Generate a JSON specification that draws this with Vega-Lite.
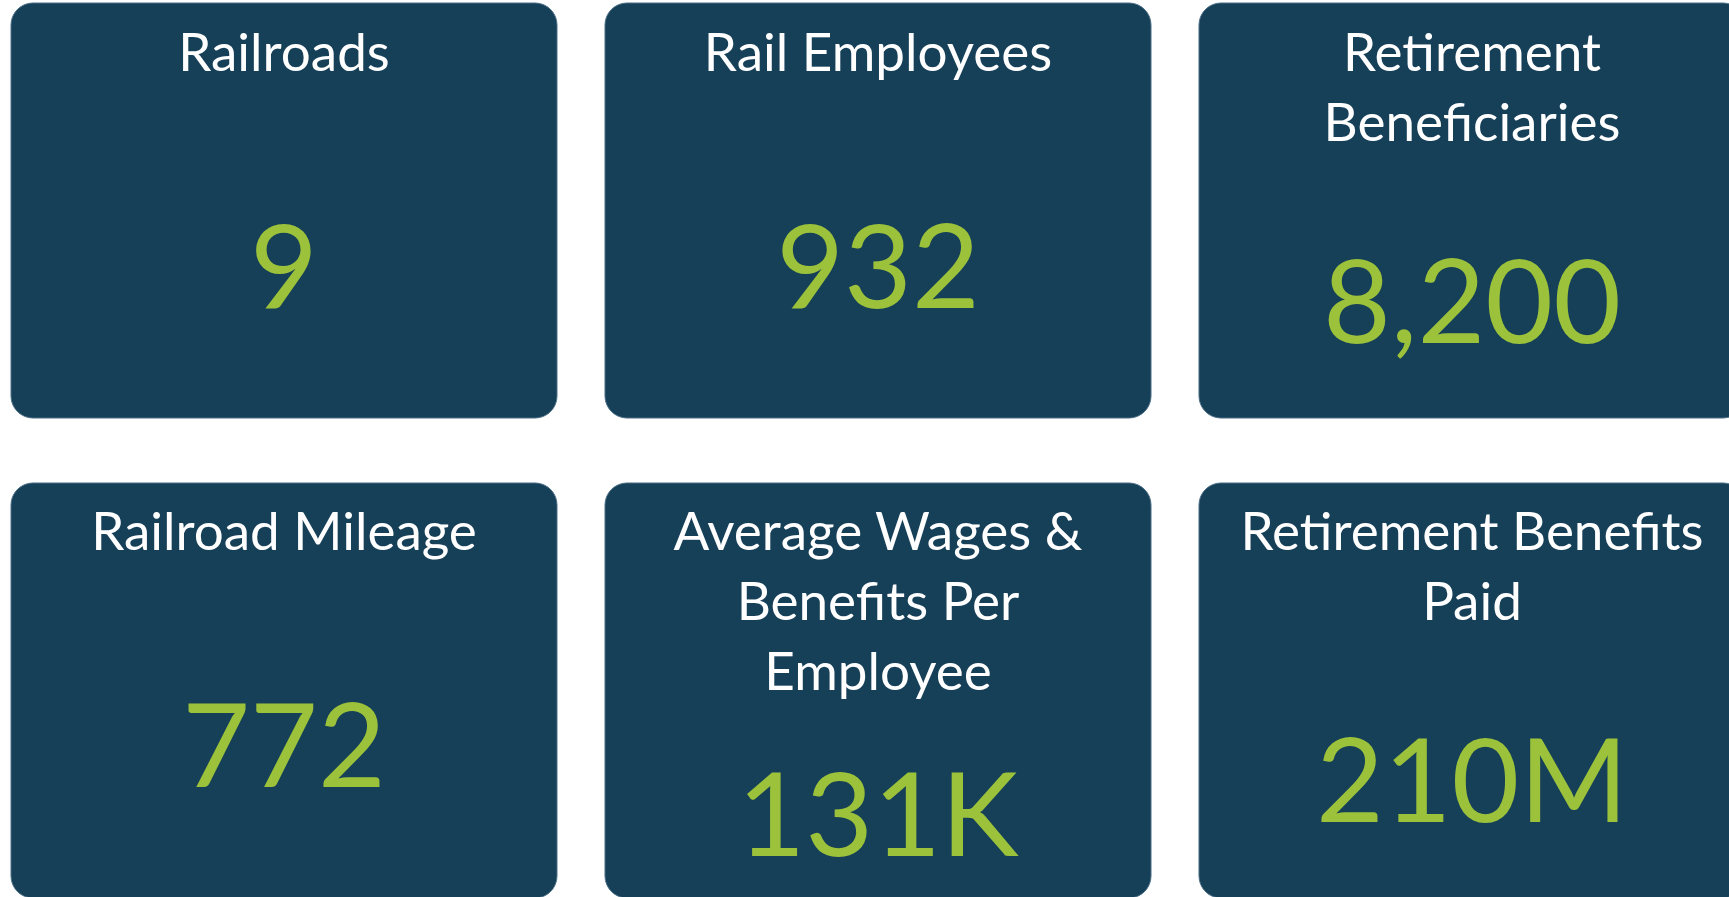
{
  "$schema": "https://vega.github.io/schema/vega-lite/v6.json",
  "width": 1729,
  "height": 897,
  "padding": 0,
  "autosize": {"type": "none"},
  "background": "white",
  "config": {"view": {"stroke": null}},
  "data": {
    "values": [
      {"row": 0, "col": 0, "title": ["Railroads"], "lines": 1, "value": 9, "display": "9"},
      {"row": 0, "col": 1, "title": ["Rail Employees"], "lines": 1, "value": 932, "display": "932"},
      {"row": 0, "col": 2, "title": ["Retirement", "Beneficiaries"], "lines": 2, "value": 8200, "display": "8,200"},
      {"row": 1, "col": 0, "title": ["Railroad Mileage"], "lines": 1, "value": 772, "display": "772"},
      {"row": 1, "col": 1, "title": ["Average Wages &", "Benefits Per", "Employee"], "lines": 3, "value": 131000, "display": "131K"},
      {"row": 1, "col": 2, "title": ["Retirement Benefits", "Paid"], "lines": 2, "value": 210000000, "display": "210M"}
    ]
  },
  "encoding": {
    "x": {"field": "col", "type": "ordinal", "axis": null, "scale": {"range": [11, 1745], "paddingInner": 0.0808, "paddingOuter": 0}},
    "y": {"field": "row", "type": "ordinal", "axis": null, "scale": {"range": [3, 898], "paddingInner": 0.1354, "paddingOuter": 0}}
  },
  "layer": [
    {
      "mark": {"type": "rect", "fill": "#163F58", "cornerRadius": 22, "stroke": "#4d6f86", "strokeWidth": 1}
    },
    {
      "mark": {"type": "text", "font": "Lato", "fontSize": 53, "color": "#FFFFFF", "baseline": "alphabetic", "align": "center", "dy": -140, "lineHeight": 70},
      "encoding": {"text": {"field": "title"}}
    },
    {
      "transform": [{"filter": "datum.lines == 1"}],
      "mark": {"type": "text", "font": "Lato", "fontSize": 117, "color": "#9BC23A", "baseline": "alphabetic", "align": "center", "dy": 97},
      "encoding": {"text": {"field": "display"}}
    },
    {
      "transform": [{"filter": "datum.lines == 2"}],
      "mark": {"type": "text", "font": "Lato", "fontSize": 117, "color": "#9BC23A", "baseline": "alphabetic", "align": "center", "dy": 132},
      "encoding": {"text": {"field": "display"}}
    },
    {
      "transform": [{"filter": "datum.lines == 3"}],
      "mark": {"type": "text", "font": "Lato", "fontSize": 117, "color": "#9BC23A", "baseline": "alphabetic", "align": "center", "dy": 166},
      "encoding": {"text": {"field": "display"}}
    }
  ]
}
